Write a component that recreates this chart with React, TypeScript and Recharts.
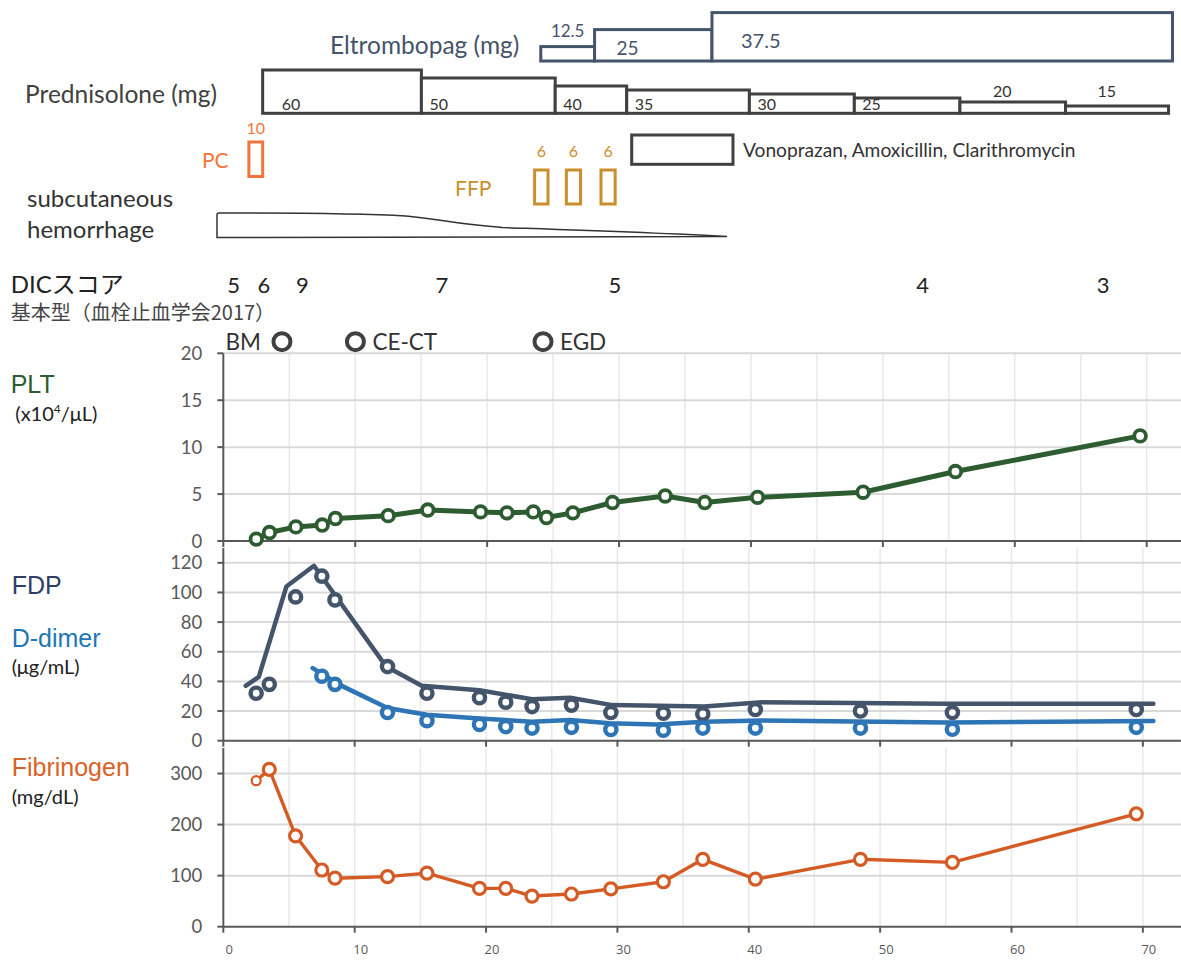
import React from 'react';
import { ComposedChart, Line, XAxis, YAxis, CartesianGrid, ReferenceArea } from 'recharts';

// ---- shared x layout (days) ----
const W = 1181;
const DAY_MAX = 73;
const dayTicks = [0, 10, 20, 30, 40, 50, 60, 70];
const dayGrid = [5, 10, 15, 20, 25, 30, 35, 40, 45, 50, 55, 60, 65, 70];

// ---- treatments ----
const eltDoses = [12.5, 25, 37.5];
const eltStart = [24.2, 28.3, 37.25];
const eltEnd = [28.3, 37.25, 72.35];

const predDoses = [60, 50, 40, 35, 30, 25, 20, 15];
const predStart = [3.0, 15.1, 25.3, 30.75, 40.1, 48.1, 56.15, 64.2];
const predEnd = [15.1, 25.3, 30.75, 40.1, 48.1, 56.15, 64.2, 72.05];

const pcUnits = [10];
const pcStart = [1.95];
const pcEnd = [3.0];

const ffpUnits = [6, 6, 6];
const ffpStart = [23.73, 26.15, 28.79];
const ffpEnd = [24.75, 27.23, 29.87];

const vonoStart = 31.13;
const vonoEnd = 38.85;
const hemStart = -0.48;
const hemEnd = 38.4;

// ---- DIC score and procedures ----
const dicDays = [0.78, 3.1, 6.02, 16.67, 29.85, 53.3, 67.06];
const dicScores = [5, 6, 9, 7, 5, 4, 3];
const procDays = [4.47, 10.07, 24.37];
const procNames = ['BM', 'CE-CT', 'EGD'];

// ---- labs ----
const pltDays = [2.5, 3.5, 5.5, 7.5, 8.5, 12.5, 15.5, 19.5, 21.5, 23.5, 24.5, 26.5, 29.5, 33.5, 36.5, 40.5, 48.5, 55.5, 69.5];
const pltValues = [0.2, 0.9, 1.5, 1.7, 2.4, 2.7, 3.3, 3.1, 3.0, 3.1, 2.5, 3.0, 4.1, 4.8, 4.1, 4.65, 5.2, 7.4, 11.2];

const labDays = [2.5, 3.5, 5.5, 7.5, 8.5, 12.5, 15.5, 19.5, 21.5, 23.5, 26.5, 29.5, 33.5, 36.5, 40.5, 48.5, 55.5, 69.5];
const fdpValues = [32, 38, 97, 111, 95, 50, 32, 29, 26, 23, 24, 19, 18.5, 18, 21, 20, 19, 21];
const fibValues = [286, 308, 178, 111, 95, 98, 105, 75, 75, 60, 64, 74, 88, 132, 93, 132, 126, 221];

const ddimerDays = [7.5, 8.5, 12.5, 15.5, 19.5, 21.5, 23.5, 26.5, 29.5, 33.5, 36.5, 40.5, 48.5, 55.5, 69.5];
const ddimerValues = [43.5, 38, 19, 13.5, 11, 9.5, 8.5, 9, 7.5, 7, 8.5, 8.5, 8.5, 7.7, 9];

// trend lines drawn separately from the markers
const fdpLineDays = [1.7, 2.7, 4.8, 6.9, 12.4, 15.1, 19.5, 23.5, 26.4, 29.6, 36.6, 41, 55, 70.8];
const fdpLineValues = [37, 43, 104, 118, 50, 37, 34, 28, 29, 24, 23, 26, 25, 25];
const ddLineDays = [6.8, 8.9, 12.5, 15.5, 19.5, 23.5, 26.4, 29.4, 33, 36.6, 41, 55, 70.8];
const ddLineValues = [49, 37.5, 22, 17.5, 15, 12.8, 14, 11.7, 11, 12.8, 13.6, 12.3, 13.3];

const zip = (days: number[], vals: number[]) => days.map((day, i) => ({ day, v: vals[i] }));

const C_PLT = '#2e5c31';
const C_FDP = '#44546a';
const C_DD = '#2e75b6';
const C_FIB = '#d55b25';
const C_AXIS = '#595959';
const C_PRED = '#404040';
const C_PC = '#f0763c';
const C_FFP = '#c98f2c';

// layout rows in the annotation band (pixels from top)
const BAND_H = 364;
const ELT_BASE = 61;
const PRED_BASE = 113.3;
const DIC_ROW = 293;
const PROC_ROW = 341.7;

const ringDot = (color: string, r: number, sw: number, firstR?: number) => (props: any) => {
  const { cx, cy, index } = props;
  if (cx == null || cy == null) return <g key={`n${index}`} />;
  const rr = index === 0 && firstR ? firstR : r;
  const w = index === 0 && firstR ? sw * 0.7 : sw;
  return <circle key={`d${index}`} cx={cx} cy={cy} r={rr} fill="#fff" stroke={color} strokeWidth={w} />;
};

const tickFont = { fill: C_AXIS, fontSize: 18.5, fontFamily: 'Lato' };
const axisStyle = { stroke: C_AXIS, strokeWidth: 2 };

function TopBand() {
  const dicData = dicDays.map((day, i) => ({ day, v: DIC_ROW, s: dicScores[i] }));
  const procData = procDays.map((day, i) => ({ day, v: PROC_ROW, s: procNames[i] }));
  return (
    <ComposedChart width={W} height={BAND_H} margin={{ top: 0, right: 0, bottom: 0, left: 223.3 }}>
      <XAxis type="number" dataKey="day" domain={[0, DAY_MAX]} hide allowDataOverflow />
      <YAxis type="number" domain={[0, BAND_H]} reversed hide allowDataOverflow />

      {eltDoses.map((dose, i) => (
        <ReferenceArea
          key={`elt${i}`}
          x1={eltStart[i]}
          x2={eltEnd[i]}
          y1={ELT_BASE}
          y2={ELT_BASE - (1.36 * dose - 2.6)}
          ifOverflow="visible"
          shape={(p: any) => (
            <g>
              <rect x={p.x} y={p.y} width={p.width} height={p.height} fill="#fff" stroke={C_FDP} strokeWidth={3} />
              {i === 0 ? (
                <text x={p.x + p.width / 2} y={p.y - 10} textAnchor="middle" fontSize={17} fontFamily="Lato" fill={C_FDP}>{dose}</text>
              ) : (
                <text x={p.x + (i === 1 ? 22 : 29)} y={p.y + p.height - (i === 1 ? 6 : 13)} fontSize={i === 1 ? 19 : 20} fontFamily="Lato" fill={C_FDP}>{dose}</text>
              )}
            </g>
          )}
        />
      ))}

      {predDoses.map((dose, i) => (
        <ReferenceArea
          key={`pred${i}`}
          x1={predStart[i]}
          x2={predEnd[i]}
          y1={PRED_BASE}
          y2={PRED_BASE - (0.8 * dose - 4.7)}
          ifOverflow="visible"
          shape={(p: any) => (
            <g>
              <rect x={p.x} y={p.y} width={p.width} height={p.height} fill="#fff" stroke={C_PRED} strokeWidth={3} />
              {dose > 20 ? (
                <text x={p.x + (i === 0 ? 19 : 8)} y={p.y + p.height - 3} fontSize={16} fontFamily="Lato" fill="#333">{dose}</text>
              ) : (
                <text x={p.x + p.width * 0.4} y={PRED_BASE - 16.6} textAnchor="middle" fontSize={16} fontFamily="Lato" fill="#333">{dose}</text>
              )}
            </g>
          )}
        />
      ))}

      {pcUnits.map((u, i) => (
        <ReferenceArea
          key={`pc${i}`}
          x1={pcStart[i]}
          x2={pcEnd[i]}
          y1={142}
          y2={176.5}
          ifOverflow="visible"
          shape={(p: any) => (
            <g>
              <rect x={p.x} y={p.y} width={p.width} height={p.height} fill="#fff" stroke={C_PC} strokeWidth={3} />
              <text x={p.x + p.width / 2} y={p.y - 8.5} textAnchor="middle" fontSize={16} fontFamily="Lato" fill={C_PC}>{u}</text>
            </g>
          )}
        />
      ))}

      {ffpUnits.map((u, i) => (
        <ReferenceArea
          key={`ffp${i}`}
          x1={ffpStart[i]}
          x2={ffpEnd[i]}
          y1={170}
          y2={204}
          ifOverflow="visible"
          shape={(p: any) => (
            <g>
              <rect x={p.x} y={p.y} width={p.width} height={p.height} fill="#fff" stroke={C_FFP} strokeWidth={3} />
              <text x={p.x + p.width / 2} y={p.y - 12.7} textAnchor="middle" fontSize={16} fontFamily="Lato" fill={C_FFP}>{u}</text>
            </g>
          )}
        />
      ))}

      <ReferenceArea
        x1={vonoStart}
        x2={vonoEnd}
        y1={135}
        y2={164.3}
        ifOverflow="visible"
        shape={(p: any) => (
          <g>
            <rect x={p.x} y={p.y} width={p.width} height={p.height} fill="#fff" stroke={C_PRED} strokeWidth={3} />
            <text x={p.x + p.width + 10} y={p.y + p.height / 2 + 7} fontSize={19.2} fontFamily="Lato" fill="#333">
              Vonoprazan, Amoxicillin, Clarithromycin
            </text>
          </g>
        )}
      />

      <ReferenceArea
        x1={hemStart}
        x2={hemEnd}
        y1={213}
        y2={237.5}
        ifOverflow="visible"
        shape={(p: any) => {
          const { x, y, width: w, height: h } = p;
          const d = `M ${x + 2} ${y} C ${x + 0.2 * w} ${y}, ${x + 0.3 * w} ${y + 1}, ${x + 0.37 * w} ${y + 3} ` +
            `C ${x + 0.43 * w} ${y + 5.5}, ${x + 0.47 * w} ${y + 11.5}, ${x + 0.56 * w} ${y + 14.5} ` +
            `C ${x + 0.7 * w} ${y + 17}, ${x + 0.85 * w} ${y + 19.5}, ${x + w} ${y + h - 1} ` +
            `L ${x} ${y + h} L ${x} ${y + 2} Q ${x} ${y} ${x + 2} ${y} Z`;
          return <path d={d} fill="#fff" stroke="#333" strokeWidth={1.5} />;
        }}
      />

      <Line
        data={dicData}
        dataKey="v"
        stroke="none"
        isAnimationActive={false}
        activeDot={false}
        dot={(p: any) => (
          <text key={`dic${p.index}`} x={p.cx} y={p.cy} textAnchor="middle" fontSize={22} fontFamily="Lato" fill="#222">
            {p.payload.s}
          </text>
        )}
      />
      <Line
        data={procData}
        dataKey="v"
        stroke="none"
        isAnimationActive={false}
        activeDot={false}
        dot={(p: any) => (
          <g key={`proc${p.index}`}>
            <circle cx={p.cx} cy={p.cy} r={8.5} fill="#fff" stroke={C_PRED} strokeWidth={4} />
            <text
              x={p.index === 0 ? p.cx - 21 : p.cx + 17}
              y={p.cy + 8.5}
              textAnchor={p.index === 0 ? 'end' : 'start'}
              fontSize={22.5}
              fontFamily="Lato"
              fill="#333"
            >
              {p.payload.s}
            </text>
          </g>
        )}
      />
    </ComposedChart>
  );
}

export default function App() {
  return (
    <div style={{ position: 'absolute', left: 0, top: 0, width: W, height: 960, background: '#fff', overflow: 'hidden' }}>
      <div style={{ position: 'absolute', left: 0, top: 0 }}>
        <TopBand />
      </div>

      {/* PLT */}
      <div style={{ position: 'absolute', left: 0, top: 340 }}>
        <ComposedChart width={W} height={214} margin={{ top: 13.3, right: 0, bottom: 0, left: 163.3 }}>
          <CartesianGrid horizontal={false} verticalValues={dayGrid} stroke="#e9e9e9" strokeWidth={1.5} />
          <CartesianGrid vertical={false} horizontalValues={[5, 10, 15, 20]} stroke="#d9d9d9" strokeWidth={2} />
          <XAxis type="number" dataKey="day" domain={[0, 72.6]} ticks={dayTicks} height={13} tickSize={6}
            tickFormatter={() => ''} axisLine={axisStyle} tickLine={axisStyle} />
          <YAxis type="number" domain={[0, 20]} ticks={[0, 5, 10, 15, 20]} interval={0} width={60} tickSize={6} tickMargin={15}
            tick={tickFont} axisLine={axisStyle} tickLine={axisStyle} />
          <Line data={zip(pltDays, pltValues)} dataKey="v" stroke={C_PLT} strokeWidth={5} strokeLinejoin="round"
            dot={ringDot(C_PLT, 5.8, 3.8)} activeDot={false} isAnimationActive={false} />
        </ComposedChart>
      </div>

      {/* FDP / D-dimer */}
      <div style={{ position: 'absolute', left: 0, top: 544 }}>
        <ComposedChart width={W} height={209.7} margin={{ top: 4, right: 0, bottom: 0, left: 163.3 }}>
          <CartesianGrid horizontal={false} verticalValues={dayGrid} stroke="#e9e9e9" strokeWidth={1.5} />
          <CartesianGrid vertical={false} horizontalValues={[20, 40, 60, 80, 100, 120]} stroke="#d9d9d9" strokeWidth={2} />
          <XAxis type="number" dataKey="day" domain={[0, 72.9]} ticks={dayTicks} height={13} tickSize={6}
            tickFormatter={() => ''} axisLine={axisStyle} tickLine={axisStyle} />
          <YAxis type="number" domain={[0, 130]} ticks={[0, 20, 40, 60, 80, 100, 120]} interval={0} width={60} tickSize={6} tickMargin={15}
            tick={tickFont} axisLine={axisStyle} tickLine={axisStyle} />
          <Line data={zip(fdpLineDays, fdpLineValues)} dataKey="v" stroke={C_FDP} strokeWidth={4.5} strokeLinejoin="round"
            strokeLinecap="round" dot={false} activeDot={false} isAnimationActive={false} />
          <Line data={zip(ddLineDays, ddLineValues)} dataKey="v" stroke={C_DD} strokeWidth={4.5} strokeLinejoin="round"
            strokeLinecap="round" dot={false} activeDot={false} isAnimationActive={false} />
          <Line data={zip(labDays, fdpValues)} dataKey="v" stroke="none" dot={ringDot(C_FDP, 5.6, 4.4)}
            activeDot={false} isAnimationActive={false} />
          <Line data={zip(ddimerDays, ddimerValues)} dataKey="v" stroke="none" dot={ringDot(C_DD, 5.6, 4.4)}
            activeDot={false} isAnimationActive={false} />
        </ComposedChart>
      </div>

      {/* Fibrinogen */}
      <div style={{ position: 'absolute', left: 0, top: 744 }}>
        <ComposedChart width={W} height={212.7} margin={{ top: 4, right: 0, bottom: 0, left: 163.3 }}>
          <CartesianGrid horizontal={false} verticalValues={dayGrid} stroke="#e9e9e9" strokeWidth={1.5} />
          <CartesianGrid vertical={false} horizontalValues={[100, 200, 300]} stroke="#d9d9d9" strokeWidth={2} />
          <XAxis type="number" dataKey="day" domain={[0, 72.9]} ticks={dayTicks} interval={0} height={30} tickSize={6} tickMargin={12}
            tick={{ fill: C_AXIS, fontSize: 13, fontFamily: 'Open Sans', dx: 6 }} axisLine={axisStyle} tickLine={axisStyle} />
          <YAxis type="number" domain={[0, 350]} ticks={[0, 100, 200, 300]} interval={0} width={60} tickSize={6} tickMargin={15}
            tick={tickFont} axisLine={axisStyle} tickLine={axisStyle} />
          <Line data={zip(labDays, fibValues)} dataKey="v" stroke={C_FIB} strokeWidth={3.4} strokeLinejoin="round"
            dot={ringDot(C_FIB, 6, 3.2, 4.5)} activeDot={false} isAnimationActive={false} />
        </ComposedChart>
      </div>

      {/* row labels */}
      <svg width={W} height={960} style={{ position: 'absolute', left: 0, top: 0, pointerEvents: 'none' }}>
        <g fontFamily="Lato">
          <text x={330} y={54} fontSize={24.5} fill={C_FDP}>Eltrombopag (mg)</text>
          <text x={25} y={103} fontSize={24.5} fill={C_PRED}>Prednisolone (mg)</text>
          <text x={202} y={167.5} fontSize={21} fill={C_PC}>PC</text>
          <text x={455} y={196} fontSize={21} fill={C_FFP}>FFP</text>
          <text x={27} y={206.5} fontSize={24} fill="#333">subcutaneous</text>
          <text x={27} y={238} fontSize={24} fill="#333">hemorrhage</text>
          <text x={10.7} y={293} fontSize={24} fill="#222" fontFamily="Lato, 'Noto Sans CJK JP'">DICスコア</text>
          <text x={10.7} y={320} fontSize={20} fill="#444" fontFamily="'Noto Sans CJK JP', Lato">基本型（血栓止血学会2017）</text>
          <text x={15.3} y={421} fontSize={20} fill="#222">
            (x10<tspan fontSize={12} dy={-8}>4</tspan><tspan dy={8}>/μL)</tspan>
          </text>
          <text x={11.7} y={674} fontSize={20} fill="#222">(μg/mL)</text>
          <text x={11.7} y={804} fontSize={20} fill="#222">(mg/dL)</text>
        </g>
        <g fontFamily="'Liberation Sans', Arial">
          <text x={10.7} y={393.3} fontSize={25} fill={C_PLT}>PLT</text>
          <text x={11.7} y={594.3} fontSize={25} fill="#2f3e66">FDP</text>
          <text x={11.7} y={647.3} fontSize={25} fill="#1f77b4">D-dimer</text>
          <text x={11.7} y={776} fontSize={25} fill="#d96227">Fibrinogen</text>
        </g>
      </svg>
    </div>
  );
}
